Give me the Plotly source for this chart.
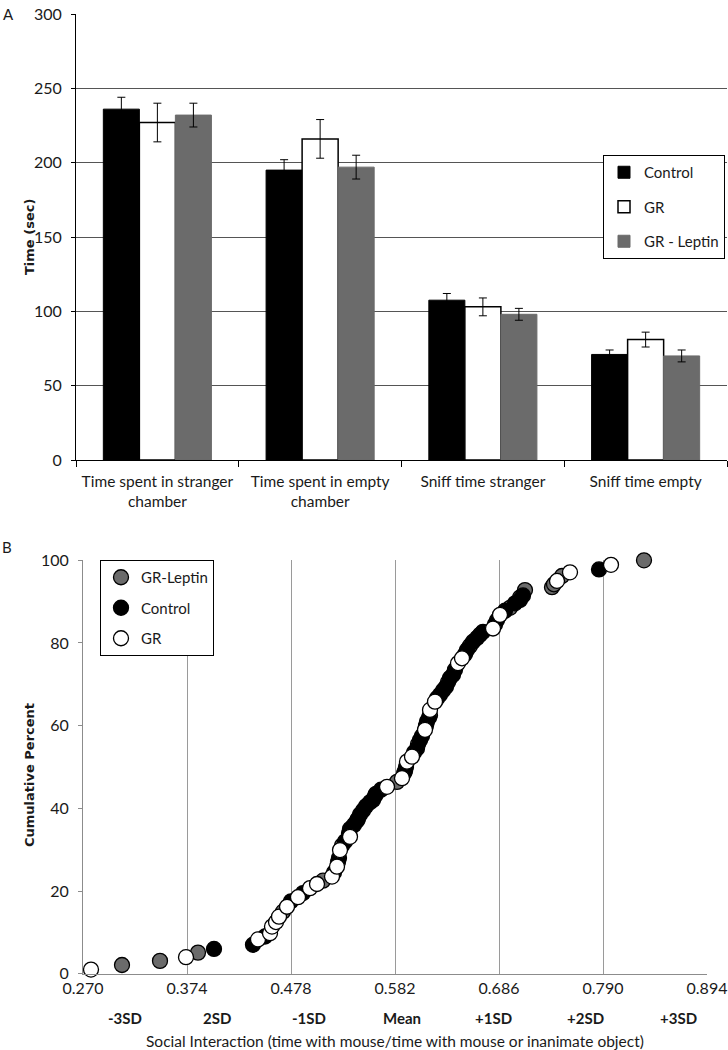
import numpy as np
import plotly.graph_objects as go

# ---------------- Panel A data ----------------
categories = ["Time spent in stranger<br>chamber", "Time spent in empty<br>chamber",
              "Sniff time stranger", "Sniff time empty"]
control_vals = [236, 195, 107.5, 71]
control_err = [8, 7, 4.5, 3]
gr_vals = [227, 216, 103, 81]
gr_err = [13, 13, 6, 5]
lep_vals = [232, 197, 98, 70]
lep_err = [8, 8, 4, 4]
a_yticks = [0, 50, 100, 150, 200, 250, 300]

# ---------------- Panel B data ----------------
lep_x = [0.309, 0.347, 0.385, 0.470, 0.510, 0.529, 0.545, 0.562, 0.584, 0.592, 0.605,
         0.617, 0.635, 0.657, 0.667, 0.697, 0.707, 0.712, 0.739, 0.741, 0.749, 0.831]
lep_y = [2.1, 3.1, 5.1, 15.0, 22.5, 31.0, 37.5, 43.0, 46.4, 49.0, 55.5,
         62.5, 70.5, 79.3, 82.0, 88.5, 91.0, 92.8, 93.5, 94.2, 96.2, 100.0]
ctl_x = [0.401, 0.440, 0.452, 0.478, 0.490, 0.521, 0.525, 0.526, 0.532, 0.536, 0.537,
         0.541, 0.544, 0.547, 0.550, 0.553, 0.557, 0.560, 0.563, 0.568, 0.591, 0.593,
         0.601, 0.604, 0.607, 0.609, 0.613, 0.614, 0.616, 0.624, 0.627, 0.630, 0.633,
         0.637, 0.640, 0.642, 0.652, 0.654, 0.660, 0.664, 0.670, 0.682, 0.684, 0.692,
         0.702, 0.707, 0.710, 0.786]
ctl_y = [6.0, 7.0, 9.0, 17.5, 19.5, 24.5, 27.0, 28.0, 32.0, 34.0, 35.0,
         36.0, 37.0, 38.5, 39.5, 40.5, 41.5, 42.0, 43.5, 44.5, 48.5, 50.0,
         53.5, 54.5, 56.5, 57.5, 60.0, 61.0, 62.0, 66.6, 67.5, 68.5, 69.4,
         71.5, 72.3, 73.5, 77.3, 78.3, 80.3, 81.2, 82.7, 84.5, 85.5, 87.8,
         89.6, 90.4, 91.5, 97.8]
gr_x = [0.278, 0.373, 0.445, 0.457, 0.459, 0.463, 0.466, 0.474, 0.485, 0.497, 0.504,
        0.519, 0.524, 0.527, 0.537, 0.574, 0.589, 0.594, 0.599, 0.612, 0.617, 0.622,
        0.645, 0.649, 0.680, 0.687, 0.744, 0.757, 0.798]
gr_y = [1.0, 4.0, 8.3, 9.8, 11.4, 12.5, 13.8, 16.2, 18.5, 20.7, 21.7,
        23.5, 25.9, 29.9, 33.1, 45.2, 47.3, 51.3, 52.5, 59.0, 63.8, 65.8,
        75.1, 76.3, 83.5, 86.8, 95.0, 97.1, 98.9]
b_xticks = [0.270, 0.374, 0.478, 0.582, 0.686, 0.790, 0.894]
b_yticks = [0, 20, 40, 60, 80, 100]
sd_labels = ["-3SD", "2SD", "-1SD", "Mean", "+1SD", "+2SD", "+3SD"]

FONT = "Lato, 'Open Sans', sans-serif"
TFONT = "'DejaVu Sans', Verdana, sans-serif"
TXT = "#1a1a1a"
W, H = 728, 1050


def px(x):
    return x / W


def py(y):
    return 1 - y / H


fig = go.Figure()

# Panel A bars
fig.add_trace(go.Bar(x=categories, y=control_vals, name="Control",
                     marker=dict(color="#000000", line=dict(color="#000000", width=1)),
                     error_y=dict(type="data", array=control_err, color="#000000", thickness=1, width=4),
                     xaxis="x", yaxis="y", legendgroup="c", legend="legend"))
fig.add_trace(go.Bar(x=categories, y=gr_vals, name="GR",
                     marker=dict(color="#ffffff", line=dict(color="#000000", width=1.5)),
                     error_y=dict(type="data", array=gr_err, color="#000000", thickness=1, width=4),
                     xaxis="x", yaxis="y", legendgroup="g", legend="legend"))
fig.add_trace(go.Bar(x=categories, y=lep_vals, name="GR - Leptin",
                     marker=dict(color="#6b6b6b", line=dict(color="#6b6b6b", width=1)),
                     error_y=dict(type="data", array=lep_err, color="#000000", thickness=1, width=4),
                     xaxis="x", yaxis="y", legendgroup="l", legend="legend"))

# Panel B scatter
mk = dict(size=15, line=dict(color="#000000", width=1.3))
fig.add_trace(go.Scatter(x=lep_x, y=lep_y, mode="markers", name="GR-Leptin",
                         marker=dict(color="#6b6b6b", **mk), xaxis="x2", yaxis="y2",
                         legendgroup="bl", legend="legend2", cliponaxis=False))
fig.add_trace(go.Scatter(x=ctl_x, y=ctl_y, mode="markers", name="Control",
                         marker=dict(color="#000000", **mk), xaxis="x2", yaxis="y2",
                         legendgroup="bc", legend="legend2", cliponaxis=False))
fig.add_trace(go.Scatter(x=gr_x, y=gr_y, mode="markers", name="GR",
                         marker=dict(color="#ffffff", **mk), xaxis="x2", yaxis="y2",
                         legendgroup="bg", legend="legend2", cliponaxis=False))

a_x0, a_x1 = px(76), px(727)
a_y0, a_y1 = py(460), py(14)
b_x0, b_x1 = px(83), px(707)
b_y0, b_y1 = py(973.7), py(560.3)

annotations = [
    dict(text="A", x=px(8), y=py(14), xref="paper", yref="paper", showarrow=False,
         font=dict(size=15, color=TXT, family=FONT), xanchor="center", yanchor="middle"),
    dict(text="B", x=px(7), y=py(547), xref="paper", yref="paper", showarrow=False,
         font=dict(size=15, color=TXT, family=FONT), xanchor="center", yanchor="middle"),
    dict(text="<b>Time (sec)</b>", x=px(29), y=(a_y0 + a_y1) / 2, xref="paper", yref="paper",
         showarrow=False, textangle=-90, font=dict(size=13, color=TXT, family=TFONT),
         xanchor="center", yanchor="middle"),
    dict(text="<b>Cumulative Percent</b>", x=px(29), y=py(775), xref="paper", yref="paper",
         showarrow=False, textangle=-90, font=dict(size=13, color=TXT, family=TFONT),
         xanchor="center", yanchor="middle"),
    dict(text="Social Interaction (time with mouse/time with mouse or inanimate object)",
         x=(b_x0 + b_x1) / 2, y=py(1041), xref="paper", yref="paper", showarrow=False,
         font=dict(size=15.5, color=TXT, family=FONT), xanchor="center", yanchor="middle"),
]
sd_pos = np.linspace(0.312, 0.865, len(sd_labels))
for lab, sx in zip(sd_labels, sd_pos):
    annotations.append(dict(text="<b>" + lab + "</b>", x=sx, y=py(1018), xref="x2", yref="paper",
                            showarrow=False, font=dict(size=15, color=TXT, family=FONT),
                            xanchor="center", yanchor="middle"))

fig.update_layout(
    template="none",
    width=W, height=H, margin=dict(l=0, r=0, t=0, b=0, pad=0, autoexpand=False),
    paper_bgcolor="white", plot_bgcolor="white",
    font=dict(family=FONT, color=TXT, size=14),
    barmode="group", bargap=0.336, bargroupgap=0,
    xaxis=dict(domain=[a_x0, a_x1], anchor="y", type="category", automargin=False,
               showline=True, linecolor="#000000", linewidth=1, tickangle=0,
               ticks="outside", tickson="boundaries", ticklen=6, tickcolor="#000000",
               ticklabelstandoff=7,
               showgrid=False, zeroline=False, tickfont=dict(size=15.5, family=FONT, color=TXT)),
    yaxis=dict(domain=[a_y0, a_y1], anchor="x", range=[0, 300], tickvals=a_yticks, automargin=False,
               showline=True, linecolor="#000000", linewidth=1,
               ticks="outside", ticklen=4, tickcolor="#000000", ticklabelstandoff=6,
               showgrid=True, gridcolor="#555555", gridwidth=1, zeroline=False,
               tickfont=dict(size=16, family=FONT, color=TXT)),
    xaxis2=dict(domain=[b_x0, b_x1], anchor="y2", range=[0.270, 0.894], tickvals=b_xticks,
                ticktext=["%.3f" % v for v in b_xticks], automargin=False, tickangle=0,
                showline=True, linecolor="#8c8c8c", linewidth=1,
                ticks="", showgrid=True, gridcolor="#9a9a9a", gridwidth=1, zeroline=False,
                tickfont=dict(size=16, family=FONT, color=TXT)),
    yaxis2=dict(domain=[b_y0, b_y1], anchor="x2", range=[0, 100], tickvals=b_yticks, automargin=False,
                showline=True, linecolor="#8c8c8c", linewidth=1,
                ticks="outside", ticklen=4, tickcolor="#8c8c8c", ticklabelstandoff=6,
                showgrid=False, zeroline=False,
                tickfont=dict(size=16, family=FONT, color=TXT)),
    legend=dict(x=px(603), y=py(155), xanchor="left", yanchor="top",
                bgcolor="white", bordercolor="#000000", borderwidth=1,
                font=dict(size=15, family=FONT, color=TXT), tracegroupgap=12,
                itemwidth=30, traceorder="grouped"),
    legend2=dict(x=px(100), y=py(560), xanchor="left", yanchor="top",
                 bgcolor="white", bordercolor="#000000", borderwidth=1,
                 font=dict(size=15, family=FONT, color=TXT), tracegroupgap=8,
                 itemwidth=30, traceorder="grouped"),
    annotations=annotations,
    showlegend=True,
)

# remove the browser's default 8px page margin so the figure fills the window exactly
fig.write_html("out.html", config={"displayModeBar": False},
               post_script="document.body.style.margin='0';document.body.style.overflow='hidden';")
